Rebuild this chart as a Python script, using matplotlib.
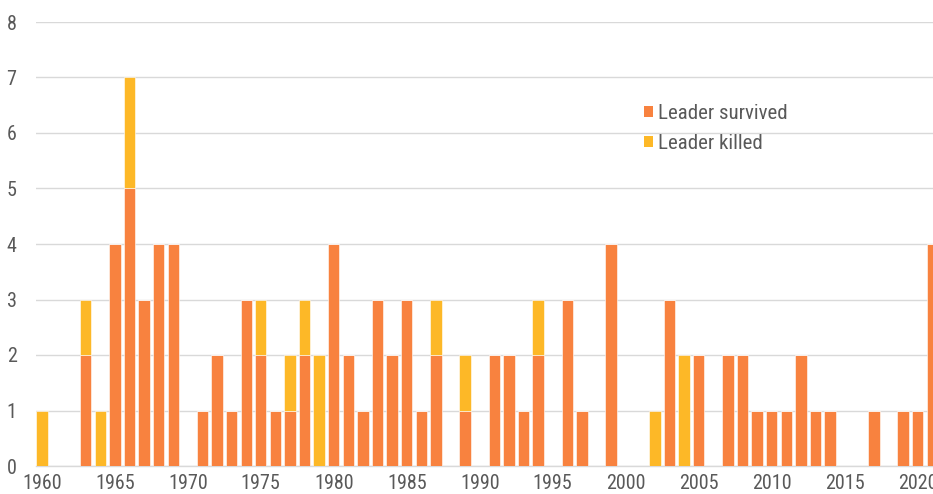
import matplotlib
matplotlib.use("Agg")
import matplotlib.pyplot as plt
from matplotlib.patches import Patch
import numpy as np

years = list(range(1960, 2022))
survived = [0, 0, 0, 2, 0, 4, 5, 3, 4, 4,
            0, 1, 2, 1, 3, 2, 1, 1, 2, 0,
            4, 2, 1, 3, 2, 3, 1, 2, 0, 1,
            0, 2, 2, 1, 2, 0, 3, 1, 0, 4,
            0, 0, 0, 3, 0, 2, 0, 2, 2, 1,
            1, 1, 2, 1, 1, 0, 0, 1, 0, 1,
            1, 4]
killed = [1, 0, 0, 1, 1, 0, 2, 0, 0, 0,
          0, 0, 0, 0, 0, 1, 0, 1, 1, 2,
          0, 0, 0, 0, 0, 0, 0, 1, 0, 1,
          0, 0, 0, 0, 1, 0, 0, 0, 0, 0,
          0, 0, 1, 0, 2, 0, 0, 0, 0, 0,
          0, 0, 0, 0, 0, 0, 0, 0, 0, 0,
          0, 0]
xticks = list(range(1960, 2021, 5))
yticks = list(range(0, 9))

orange = "#F8823F"
yellow = "#FDB827"
textc = "#595959"
gridc = "#D9D9D9"

plt.rcParams['font.family'] = ['Roboto Condensed', 'Liberation Sans Narrow', 'Roboto', 'DejaVu Sans']

fig = plt.figure(figsize=(9.33, 4.94), dpi=100)
ax = fig.add_axes([36/933, 28/494, 1 - 36/933, (466-22)/494])

ax.bar(years, survived, width=0.78, color=orange, edgecolor="white", linewidth=0.4, zorder=3)
ax.bar(years, killed, width=0.78, bottom=survived, color=yellow, edgecolor="white", linewidth=0.4, zorder=3)

ax.set_xlim(1959.6, 2021.05)
ax.set_ylim(0, 8)
ax.set_yticks(yticks)
ax.set_xticks(xticks)
ax.yaxis.grid(True, color=gridc, linewidth=1, zorder=0)
ax.set_axisbelow(True)
for s in ['top', 'right', 'left']:
    ax.spines[s].set_visible(False)
ax.spines['bottom'].set_color(gridc)
ax.spines['bottom'].set_linewidth(1)
ax.tick_params(axis='both', length=0, labelsize=14.5, colors=textc)
ax.tick_params(axis='y', pad=14)
ax.tick_params(axis='x', pad=6)

handles = [Patch(facecolor=orange, label="Leader survived"),
           Patch(facecolor=yellow, label="Leader killed")]
leg = ax.legend(handles=handles, loc='upper left', bbox_to_anchor=(0.668, 0.835),
                frameon=False, fontsize=15, handlelength=0.45, handleheight=0.45,
                handletextpad=0.25, labelspacing=0.55, labelcolor=textc,
                borderaxespad=0)

fig.savefig("out.png", dpi=100)
